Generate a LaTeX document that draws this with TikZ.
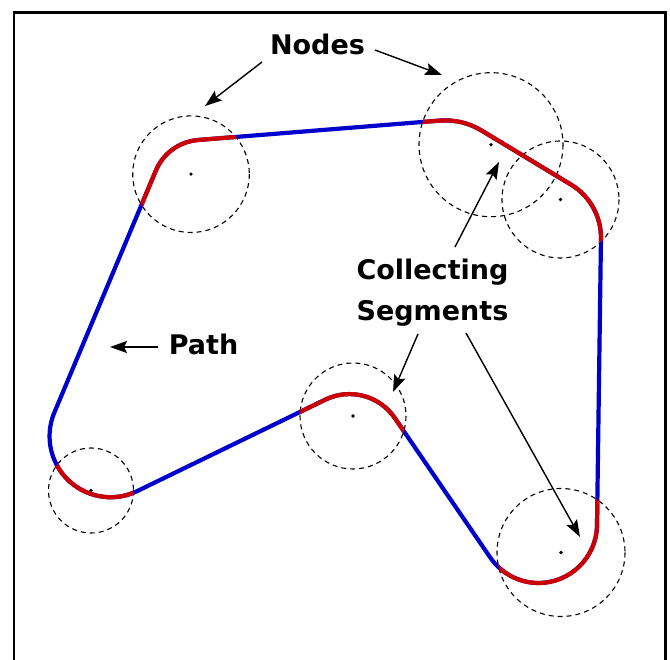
\documentclass[tikz,border=0pt]{standalone}
\usepackage{fontspec}
\setmainfont{DejaVu Sans}
\usetikzlibrary{arrows.meta}

\definecolor{segred}{RGB}{204,0,0}
\definecolor{segblue}{RGB}{0,0,204}

\tikzset{
	nodecircle/.style={line width=1.1pt, dash pattern=on 5pt off 4pt},
	pathline/.style={line width=4.2pt, line join=round},
	pointer/.style={line width=1.4pt, -{Stealth[length=17pt, width=12pt, inset=3pt]}},
	labeltext/.style={font=\fontsize{27}{40.7}\selectfont\bfseries, inner sep=0pt}
}

% name/x/y/radius of the node circles
\def\nodelist{n1/191/174.2/58.3, n2/491/144.7/72, n3/560.5/199.5/58.5, n4/91/490.5/42.5, n5/353/416/53, n6/561/552.5/64}

% the closed path: straight pieces joined by arcs
\def\trackpath{(198.0,140.0) -- (439.6,120.6)
	arc[start angle=265.4, end angle=301.1, radius=70] -- (571.0,184.6)
	arc[start angle=301.1, end angle=360.8, radius=62] -- (597.0,525.3)
	arc[start angle=0.8, end angle=145.6, radius=58.5] -- (394.8,418.0)
	arc[start angle=-34.4, end angle=-115.9, radius=55] -- (137.2,491.1)
	arc[start angle=64.1, end angle=202.8, radius=61] -- (155.9,170.5)
	arc[start angle=202.8, end angle=265.4, radius=50] -- cycle}

\begin{document}
\begin{tikzpicture}[x=1pt, y=1pt, yscale=-1]
	%%%%% START %%%%%
	\useasboundingbox (0,0) rectangle (670,660);
	
	\draw[line width=2.5pt] (14,700) -- (14,12.5) -- (665.5,12.5) -- (665.5,700);
	
	\foreach \name/\x/\y/\r in \nodelist {
		\coordinate (\name) at (\x,\y);
		\draw[nodecircle] (\name) circle (\r);
		\fill (\name) circle (1.8);
	}
	
	\draw[pathline, segblue] \trackpath;
	\begin{scope}
		\clip \foreach \name/\x/\y/\r in \nodelist {(\x,\y) circle (\r)};
		\draw[pathline, segred] \trackpath;
	\end{scope}
	
	\node[labeltext, anchor=base] (nodes) at (317.5,54.3) {Nodes};
	\node[labeltext, align=center] (collect) at (432.5,292.7) {Collecting\\Segments};
	\node[labeltext, anchor=base] (pathlabel) at (203.5,355) {Path};
	
	\coordinate (nodes-l) at (262,62);
	\coordinate (nodes-r) at (375,50);
	\coordinate (collect-t) at (455,247);
	\coordinate (collect-l) at (418,334);
	\coordinate (collect-r) at (466,333);
	\coordinate (path-r) at (158,347);
	
	\coordinate (tip1) at (205,106);
	\coordinate (tip2) at (442,75);
	\coordinate (tip3) at (499,162);
	\coordinate (tip5) at (393,392);
	\coordinate (tip6) at (580,537);
	\coordinate (tip-path) at (110,347);
	
	\draw[pointer] (nodes-l) -- (tip1);
	\draw[pointer] (nodes-r) -- (tip2);
	\draw[pointer] (collect-t) -- (tip3);
	\draw[pointer] (collect-l) -- (tip5);
	\draw[pointer] (collect-r) -- (tip6);
	\draw[pointer] (path-r) -- (tip-path);
	%%%%% END %%%%%
\end{tikzpicture}
\end{document}
